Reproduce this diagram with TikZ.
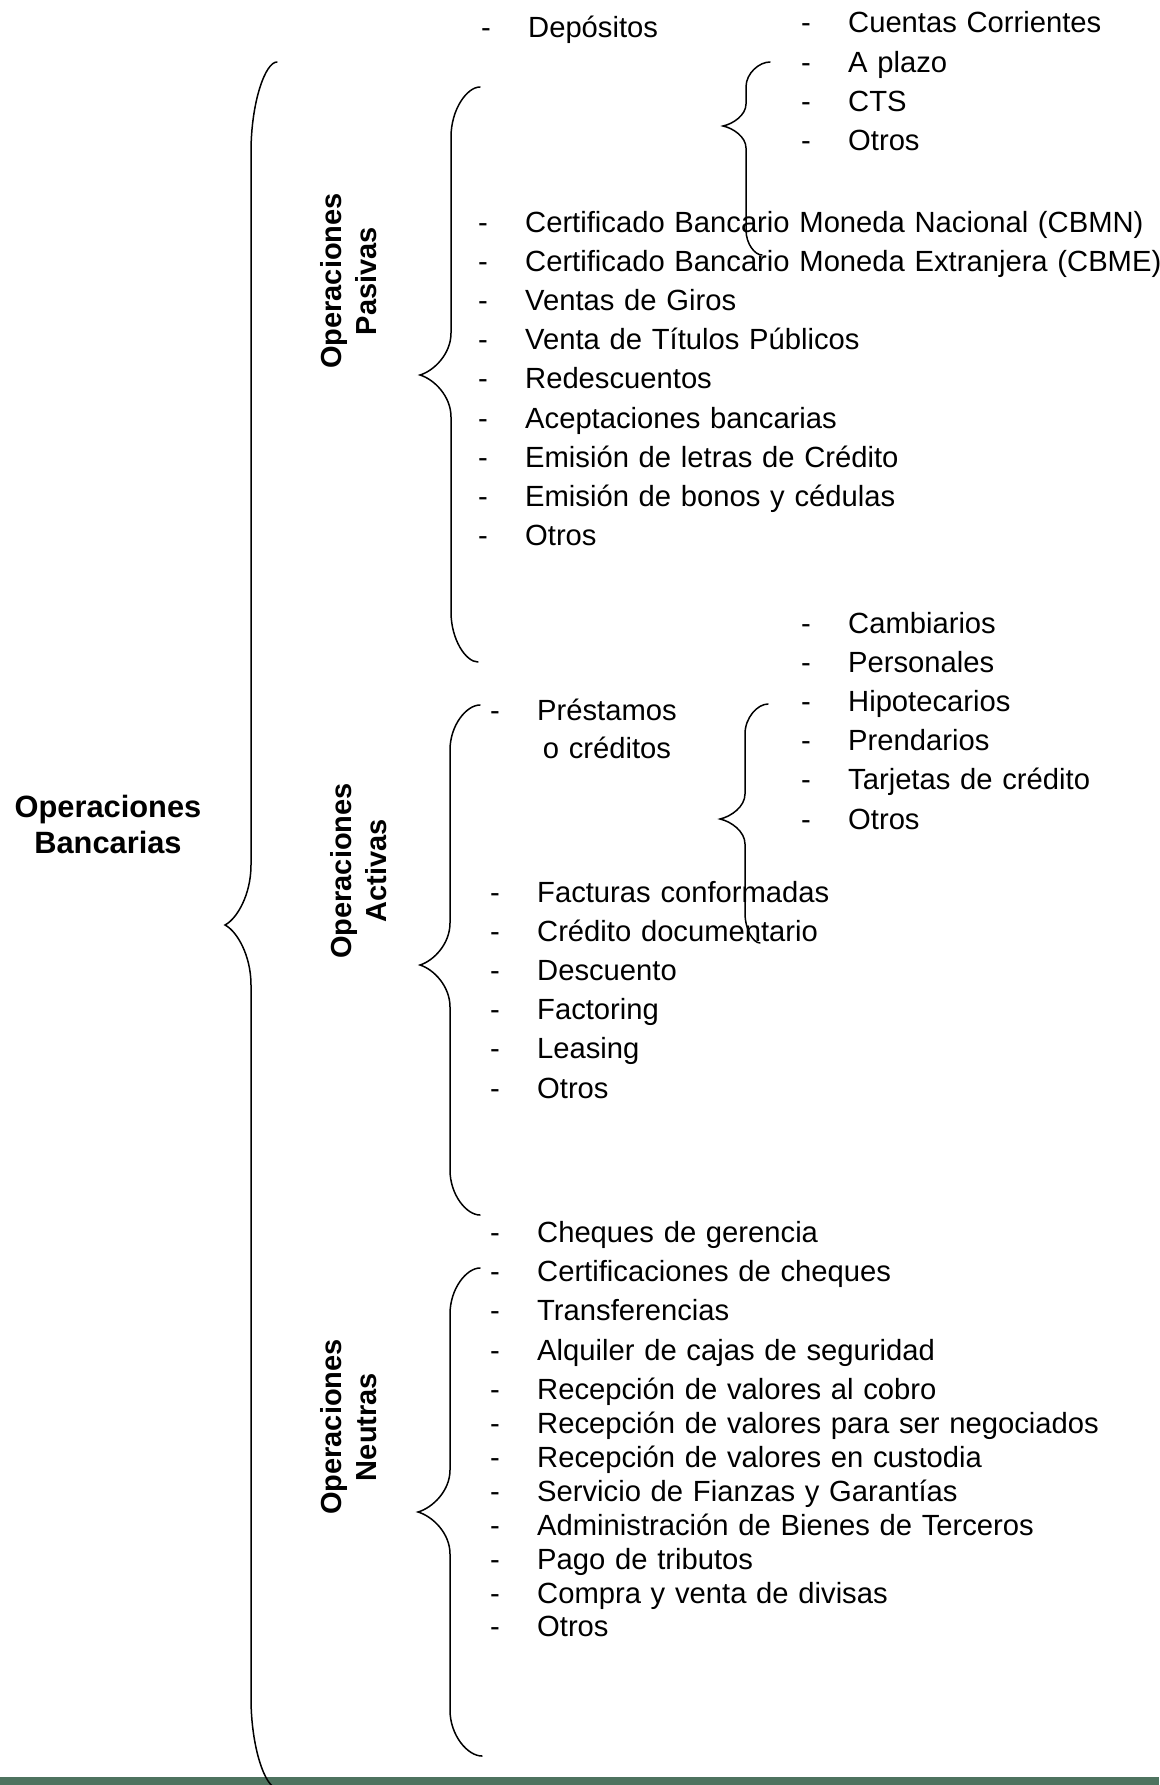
\documentclass[tikz,border=0pt]{standalone}
\usepackage{fontspec}
\setmainfont{Liberation Sans}
\usepackage{tikz}
\usetikzlibrary{positioning}
\definecolor{strip-green}{RGB}{78,115,95}

\newcommand{\itm}[1]{\makebox[47pt][l]{-}#1}
% top end x, top y, line x, tip x, tip y, bottom end x, bottom y, end bend, tip bend
\newcommand{\wbrace}[9]{%
  \draw[brace] (#1,#2)
    .. controls ({#3+0.55*(#1-#3)},#2) and (#3,{#2+0.45*#8}) .. (#3,{#2+#8})
    -- (#3,{#5-#9})
    .. controls (#3,{#5-0.5*#9}) and ({#4+0.45*(#3-#4)},{#5-0.1*#9}) .. (#4,#5)
    .. controls ({#4+0.45*(#3-#4)},{#5+0.1*#9}) and (#3,{#5+0.5*#9}) .. (#3,{#5+#9})
    -- (#3,{#7-#8})
    .. controls (#3,{#7-0.45*#8}) and ({#3+0.55*(#6-#3)},#7) .. (#6,#7);
}

\begin{document}
\begin{tikzpicture}[
    x=1pt, y=-1pt,
    node distance=10.8pt,
    entry/.style={text width=700pt, align=left, inner sep=0pt, text height=21pt, text depth=7pt, font=\fontsize{29.2}{38}\selectfont},
    heading/.style={align=center, inner sep=0pt, font=\fontsize{30.8}{36}\selectfont\bfseries},
    group/.style={align=center, inner sep=0pt, rotate=90, font=\fontsize{29}{35}\selectfont\bfseries},
    brace/.style={line width=1.5pt, line cap=round}
]
\useasboundingbox (0,0) rectangle (1159,1785);
\fill[strip-green] (0,1777) rectangle (1159,1785);

% Bancarias (left)
\node[heading] (bancarias) at (108,824) {Operaciones\\Bancarias};
\wbrace{277}{62}{251}{225}{925}{277}{1788}{90}{60}

% Pasivas (top)
\node[group] (pasivas) at (349,281) {Operaciones\\Pasivas};
\wbrace{480}{87}{451}{420}{375}{478}{662}{50}{42}

\node[entry, anchor=base west] (depositos) at (481,38) {\itm{Depósitos}};
\wbrace{770}{62}{746}{723}{126}{762}{255}{25}{22}
\node[entry, anchor=base west] (d-cc) at (801,33) {\itm{Cuentas Corrientes}};
\node[entry, below=of d-cc] (d-plazo) {\itm{A plazo}};
\node[entry, below=of d-plazo] (d-cts) {\itm{CTS}};
\node[entry, below=of d-cts] (d-otros) {\itm{Otros}};

\node[entry, anchor=base west] (p-cbmn) at (478,232) {\itm{Certificado Bancario Moneda Nacional (CBMN)}};
\node[entry, below=of p-cbmn] (p-cbme) {\itm{Certificado Bancario Moneda Extranjera (CBME)}};
\node[entry, below=of p-cbme] (p-giros) {\itm{Ventas de Giros}};
\node[entry, below=of p-giros] (p-titulos) {\itm{Venta de Títulos Públicos}};
\node[entry, below=of p-titulos] (p-redesc) {\itm{Redescuentos}};
\node[entry, below=of p-redesc] (p-acept) {\itm{Aceptaciones bancarias}};
\node[entry, below=of p-acept] (p-letras) {\itm{Emisión de letras de Crédito}};
\node[entry, below=of p-letras] (p-bonos) {\itm{Emisión de bonos y cédulas}};
\node[entry, below=of p-bonos] (p-otros) {\itm{Otros}};

% Activas (middle)
\node[group] (activas) at (359,871) {Operaciones\\Activas};
\wbrace{480}{705}{450}{420}{965}{480}{1215}{45}{42}

\node[entry, anchor=base west] (prestamos) at (490,720) {\itm{\begin{tabular}[t]{@{}c@{}}Préstamos\\o créditos\end{tabular}}};
\wbrace{768}{704}{745}{720}{819}{760}{943}{30}{25}
\node[entry, anchor=base west] (a-camb) at (801,633) {\itm{Cambiarios}};
\node[entry, below=of a-camb] (a-pers) {\itm{Personales}};
\node[entry, below=of a-pers] (a-hipo) {\itm{Hipotecarios}};
\node[entry, below=of a-hipo] (a-prend) {\itm{Prendarios}};
\node[entry, below=of a-prend] (a-tarj) {\itm{Tarjetas de crédito}};
\node[entry, below=of a-tarj] (a-otros) {\itm{Otros}};

\node[entry, anchor=base west] (a-fact) at (490,902) {\itm{Facturas conformadas}};
\node[entry, below=of a-fact] (a-cred) {\itm{Crédito documentario}};
\node[entry, below=of a-cred] (a-desc) {\itm{Descuento}};
\node[entry, below=of a-desc] (a-factoring) {\itm{Factoring}};
\node[entry, below=of a-factoring] (a-leasing) {\itm{Leasing}};
\node[entry, below=of a-leasing] (a-otros2) {\itm{Otros}};

% Neutras (bottom)
\node[group] (neutras) at (349,1427) {Operaciones\\Neutras};
\wbrace{480}{1268}{450}{418}{1512}{482}{1756}{46}{42}

\node[entry, anchor=base west] (n-cheq) at (490,1242) {\itm{Cheques de gerencia}};
\node[entry, below=11pt of n-cheq] (n-cert) {\itm{Certificaciones de cheques}};
\node[entry, below=11pt of n-cert] (n-transf) {\itm{Transferencias}};
\node[entry, below=11pt of n-transf] (n-cajas) {\itm{Alquiler de cajas de seguridad}};
\node[entry, below=11pt of n-cajas] (n-cobro) {\itm{Recepción de valores al cobro}};
\node[entry, below=5.5pt of n-cobro] (n-negoc) {\itm{Recepción de valores para ser negociados}};
\node[entry, below=5.5pt of n-negoc] (n-cust) {\itm{Recepción de valores en custodia}};
\node[entry, below=5.5pt of n-cust] (n-fianz) {\itm{Servicio de Fianzas y Garantías}};
\node[entry, below=5.5pt of n-fianz] (n-admin) {\itm{Administración de Bienes de Terceros}};
\node[entry, below=5.5pt of n-admin] (n-trib) {\itm{Pago de tributos}};
\node[entry, below=5.5pt of n-trib] (n-divis) {\itm{Compra y venta de divisas}};
\node[entry, below=5.5pt of n-divis] (n-otros) {\itm{Otros}};

\end{tikzpicture}
\end{document}
